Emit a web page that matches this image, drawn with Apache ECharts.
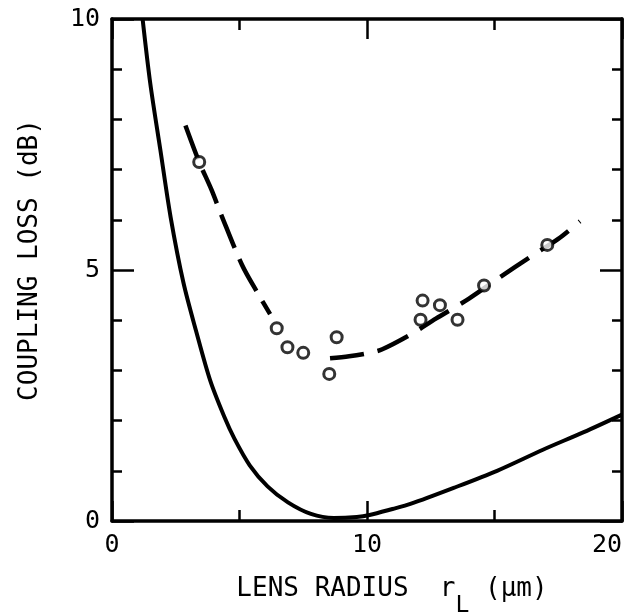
<!DOCTYPE html>
<html><head><meta charset="utf-8">
<script src="https://cdn.jsdelivr.net/npm/echarts@6/dist/echarts.min.js"></script>
<style>html,body{margin:0;padding:0;background:#fff}#c{width:633px;height:615px}</style>
</head><body><div id="c"></div>
<script>
// Theoretical coupling loss (solid curve)
const theoryX = [1.2, 1.5, 1.9, 2.3, 2.8, 3.3, 3.85, 4.4, 4.8, 5.4, 6.1, 6.9, 7.8, 8.7, 9.6, 10.1, 11.0, 11.7, 13.4, 15.1, 16.9, 18.5, 20];
const theoryY = [10, 8.72, 7.38, 6.05, 4.75, 3.78, 2.8, 2.08, 1.64, 1.11, 0.69, 0.37, 0.14, 0.06, 0.08, 0.12, 0.24, 0.34, 0.66, 1.0, 1.42, 1.77, 2.12];
// Dashed fit through measurements, two segments
const fit1X = [2.88, 3.42, 3.9, 4.3, 5.1, 5.7, 6.2];
const fit1Y = [7.88, 7.15, 6.6, 6.08, 5.1, 4.55, 4.12];
const fit2X = [8.55, 9.3, 10.1, 10.6, 11.7, 12.7, 14.0, 15.2, 16.4, 17.5, 18.35];
const fit2Y = [3.24, 3.28, 3.35, 3.42, 3.71, 4.03, 4.43, 4.85, 5.26, 5.62, 5.97];
// Measured points (circles)
const measX = [3.42, 6.46, 6.88, 7.5, 8.81, 8.52, 12.18, 12.1, 12.86, 13.55, 14.59, 17.07];
const measY = [7.15, 3.84, 3.46, 3.35, 3.66, 2.93, 4.39, 4.01, 4.30, 4.01, 4.69, 5.50];
// Tick labels
const xTickLabels = [0, 10, 20];
const yTickLabels = [0, 5, 10];

const zip = (a, b) => a.map((v, i) => [v, b[i]]);
const FONT = 'DejaVu Sans Mono';
const black = '#000';

function xAx(pos, showLabel) {
  return {
    type: 'value', position: pos, min: 0, max: 20, interval: 10,
    axisLine: { show: true, onZero: false, lineStyle: { color: black, width: 3.5 } },
    axisTick: { show: true, inside: true, length: 20, lineStyle: { color: black, width: 2.5 } },
    minorTick: { show: true, splitNumber: 2, length: 11, lineStyle: { color: black, width: 2.5 } },
    splitLine: { show: false }, minorSplitLine: { show: false },
    axisLabel: {
      show: showLabel, color: black, fontFamily: FONT, fontSize: 25, margin: 12,
      alignMaxLabel: 'right',
      formatter: v => xTickLabels.indexOf(v) >= 0 ? String(v) : ''
    }
  };
}
function yAx(pos, showLabel) {
  return {
    type: 'value', position: pos, min: 0, max: 10, interval: 5,
    axisLine: { show: true, onZero: false, lineStyle: { color: black, width: 3.5 } },
    axisTick: { show: true, inside: true, length: 22, lineStyle: { color: black, width: 2.5 } },
    minorTick: { show: true, splitNumber: 5, length: 10, lineStyle: { color: black, width: 2.5 } },
    splitLine: { show: false }, minorSplitLine: { show: false },
    axisLabel: {
      show: showLabel, color: black, fontFamily: FONT, fontSize: 25, margin: 12,
      formatter: v => yTickLabels.indexOf(v) >= 0 ? String(v) : ''
    }
  };
}

const xMain = xAx('bottom', true);
xMain.name = '{a|LENS RADIUS  r}{s|L}{a| (μm)}';
xMain.nameLocation = 'middle';
xMain.nameGap = 55;
xMain.nameTextStyle = {
  padding: [0, 0, 0, 50],
  rich: {
    a: { fontFamily: FONT, fontSize: 26, color: black },
    s: { fontFamily: FONT, fontSize: 23, color: black, verticalAlign: 'bottom', padding: [0, 0, -16, 0] }
  }
};
const yMain = yAx('left', true);
yMain.name = 'COUPLING LOSS (dB)';
yMain.nameLocation = 'middle';
yMain.nameGap = 69;
yMain.nameTextStyle = { fontFamily: FONT, fontSize: 26, color: black, padding: [0, 0, 0, 20] };

const chart = echarts.init(document.getElementById('c'));
chart.setOption({
  backgroundColor: '#fff',
  animation: false,
  grid: { left: 112, right: 11, top: 19, bottom: 94, containLabel: false, outerBoundsMode: 'none' },
  xAxis: [xMain, xAx('top', false)],
  yAxis: [yMain, yAx('right', false)],
  series: [
    { type: 'line', data: zip(theoryX, theoryY), smooth: 0.3, symbol: 'none',
      lineStyle: { color: black, width: 4 }, clip: true, z: 3 },
    { type: 'line', data: zip(fit1X, fit1Y), smooth: 0.3, symbol: 'none',
      lineStyle: { color: black, width: 4.5, type: [36, 12] }, z: 3 },
    { type: 'line', data: zip(fit2X, fit2Y), smooth: 0.3, symbol: 'none',
      lineStyle: { color: black, width: 4.5, type: [34, 14] }, z: 3 },
    { type: 'scatter', data: zip(measX, measY), symbol: 'circle', symbolSize: 11,
      itemStyle: { color: '#fff', borderColor: black, borderWidth: 3 }, z: 5 }
  ]
});
</script>
</body></html>
